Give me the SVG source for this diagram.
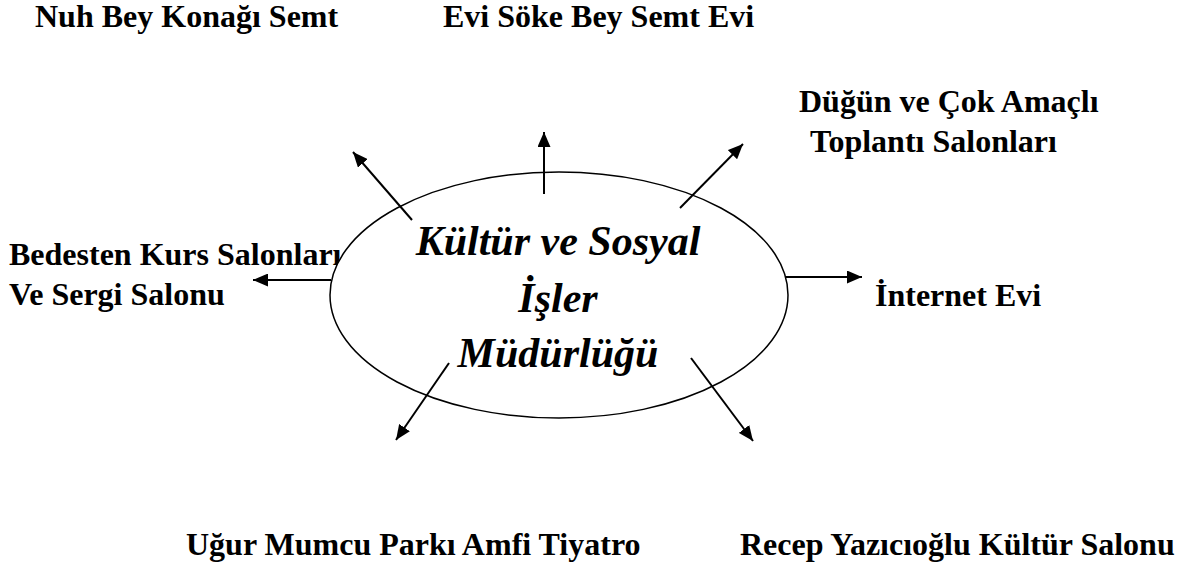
<svg xmlns="http://www.w3.org/2000/svg" width="1185" height="572" viewBox="0 0 1185 572">
  <style>
    .lbl { font-family: "Liberation Serif", "Times New Roman", serif; font-weight: bold; font-size: 32px; fill: #000; }
    .ctr { font-family: "Liberation Serif", "Times New Roman", serif; font-weight: bold; font-style: italic; font-size: 42px; fill: #000; text-anchor: middle; }
    .arr { stroke: #000; stroke-width: 2; fill: none; marker-end: url(#ah); }
  </style>
  <defs>
    <marker id="ah" markerUnits="userSpaceOnUse" markerWidth="16" markerHeight="13" refX="15" refY="6.5" orient="auto">
      <path d="M0,0 L15,6.5 L0,13 z" fill="#000"/>
    </marker>
  </defs>
  <rect width="1185" height="572" fill="#fff"/>

  <g id="node-nuh"><text class="lbl" x="35" y="27">Nuh Bey Konağı Semt</text></g>
  <g id="node-evi"><text class="lbl" x="443" y="27">Evi Söke Bey Semt Evi</text></g>
  <g id="node-dugun">
    <text class="lbl" x="799" y="112">Düğün ve Çok Amaçlı</text>
    <text class="lbl" x="810" y="152">Toplantı Salonları</text>
  </g>
  <g id="node-bedesten">
    <text class="lbl" x="9" y="265">Bedesten Kurs Salonları</text>
    <text class="lbl" x="9" y="305">Ve Sergi Salonu</text>
  </g>
  <g id="node-internet"><text class="lbl" x="875" y="306">İnternet Evi</text></g>
  <g id="node-ugur"><text class="lbl" x="186" y="555">Uğur Mumcu Parkı Amfi Tiyatro</text></g>
  <g id="node-recep"><text class="lbl" x="740" y="555">Recep Yazıcıoğlu Kültür Salonu</text></g>

  <g id="node-center">
    <ellipse cx="559" cy="295" rx="229" ry="123" fill="#fff" stroke="#000" stroke-width="1.5"/>
    <text class="ctr" x="558" y="255">Kültür ve Sosyal</text>
    <text class="ctr" x="558" y="312">İşler</text>
    <text class="ctr" x="558" y="367">Müdürlüğü</text>
  </g>

  <g id="connectors">
    <line class="arr" x1="544" y1="194" x2="544" y2="132"/>
    <line class="arr" x1="412" y1="220" x2="353" y2="152"/>
    <line class="arr" x1="680" y1="208" x2="743" y2="144"/>
    <line class="arr" x1="449" y1="363" x2="396" y2="440"/>
    <line class="arr" x1="691" y1="358" x2="753" y2="441"/>
    <line class="arr" x1="331" y1="280" x2="253" y2="280"/>
    <line class="arr" x1="786" y1="277" x2="862" y2="277"/>
  </g>
</svg>
